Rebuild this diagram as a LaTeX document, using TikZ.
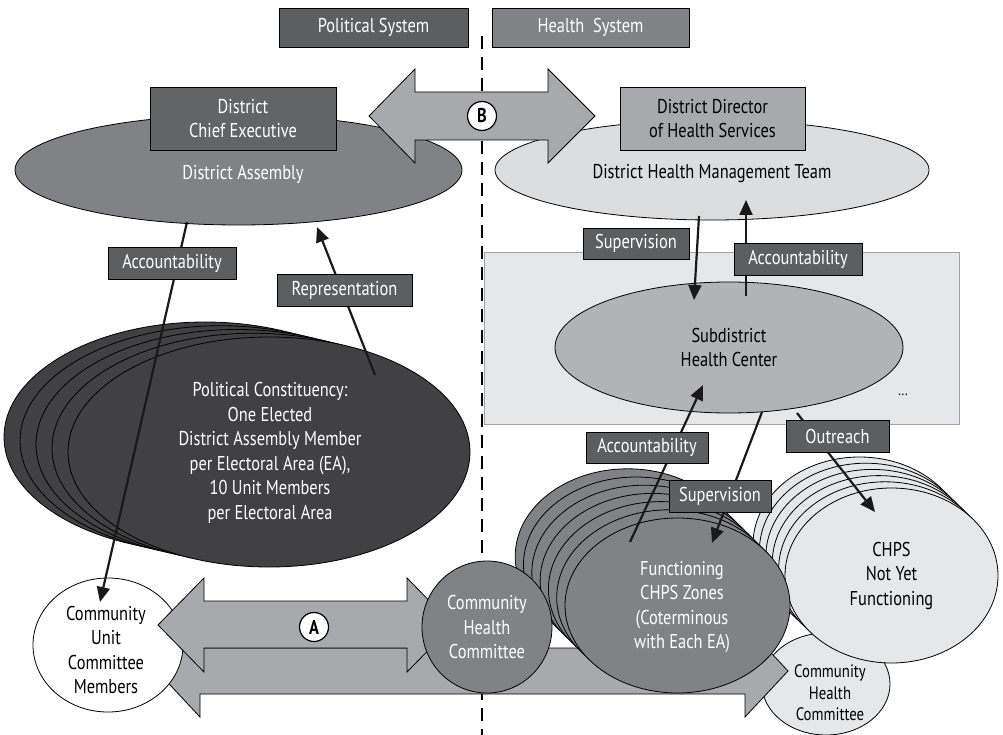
\documentclass[tikz,border=0pt]{standalone}
\usepackage{fontspec}
\setmainfont[FakeStretch=0.82]{PT Sans}
\usetikzlibrary{shapes.geometric,arrows.meta}

\definecolor{boxdark}{HTML}{5D5E60}
\definecolor{boxmid}{HTML}{636466}
\definecolor{gmid}{HTML}{808285}
\definecolor{garrow}{HTML}{A7A9AC}
\definecolor{glight}{HTML}{DCDDDF}
\definecolor{gpale}{HTML}{E6E7E8}
\definecolor{gdark}{HTML}{414042}
\definecolor{gsub}{HTML}{B1B3B6}
\definecolor{zoneedge}{HTML}{A0A2A5}

\newcommand\fsz{\fontsize{20}{24.5}\selectfont}
\newcommand\fszs{\fontsize{18}{21.5}\selectfont}

\begin{document}
\begin{tikzpicture}[x=1pt,y=-1pt,
  txt/.style={align=center,font=\fsz,inner sep=0},
  ell/.style={ellipse,draw=black,line width=0.8pt,inner sep=0,align=center,font=\fsz},
  stackline/.style={draw=black,line width=0.8pt},
  sysbox/.style={draw=black,line width=0.8pt,inner sep=0,minimum height=39,text=white,font=\fsz},
  headbox/.style={draw=black,line width=0.8pt,inner sep=0,minimum width=186,minimum height=63,align=center,font=\fsz},
  tagbox/.style={draw=black,line width=0.8pt,fill=boxdark,text=white,inner sep=0,minimum height=32,font=\fsz},
  blockarrow/.style={draw=black,line width=0.8pt,fill=garrow,line join=miter},
  letter/.style={circle,draw=black,line width=1.2pt,fill=white,inner sep=0,minimum size=29,font=\fsz\bfseries},
  link/.style={line width=2.2pt,draw=black!90},
  linkarrow/.style={link,-{Triangle[length=15pt,width=13pt]}}
]
\useasboundingbox (0,0) rectangle (1003,735);

% divider between the two systems
\draw[line width=2.6pt,dash pattern=on 13pt off 8pt] (482,36) -- (482,735);

% subdistrict zone
\node[draw=zoneedge,line width=0.8pt,fill=gpale,minimum width=475,minimum height=172,inner sep=0] (zone) at (721.5,338) {};

% district level
\node[ell,fill=gmid,minimum width=447,minimum height=110] (da) at (238.5,170) {};
\node[txt,text=white] (dat) at (243,174) {District Assembly};
\node[ell,fill=glight,minimum width=434,minimum height=100] (dhmt) at (712,170) {};
\node[txt] (dhmtt) at (712,174) {District Health Management Team};
\node[headbox,fill=boxmid,text=white] (dce) at (243,118.5) {District\\Chief Executive};
\node[headbox,fill=garrow,minimum width=185] (ddhs) at (712.5,118.5) {District Director\\of Health Services};

\node[sysbox,fill=boxdark,minimum width=189] (pol) at (373.5,27.5) {Political System};
\node[sysbox,fill=gmid,minimum width=197] (hs) at (590.5,27.5) {Health~ System};

% link B between the two systems
\draw[blockarrow] (369,116) -- (415,69) -- (415,92) -- (548,92) -- (548,69) -- (595,116)
  -- (548,163) -- (548,140) -- (415,140) -- (415,163) -- cycle;
\node[letter] (lb) at (482,116) {B};

% subdistrict
\node[ell,fill=gsub,minimum width=348,minimum height=131] (sub) at (729,347.5) {Subdistrict\\Health Center};
\node[font=\fontsize{15}{15}\selectfont,inner sep=0] (dots) at (903,395) {...};

% political constituencies
\foreach \k in {4,3,2,1}
  \draw[stackline,fill=gdark] ({269-16*\k},{452-3.75*\k}) ellipse [x radius=201,y radius=115];
\node[ell,fill=gdark,minimum width=402,minimum height=230] (pc) at (269,452) {};
\node[txt,text=white] (pct) at (270,453)
  {Political Constituency:\\One Elected\\District Assembly Member\\per Electoral Area (EA),\\10 Unit Members\\per Electoral Area};

% community level
\node[ell,fill=gpale,minimum width=128,minimum height=102] (chcb) at (826,684) {};
\node[txt,font=\fszs] (chcbt) at (830,693) {Community\\Health\\Committee};

\draw[blockarrow] (157,671) -- (200,625) -- (200,648) -- (745,648) -- (745,625) -- (788,671)
  -- (745,717) -- (745,694) -- (200,694) -- (200,717) -- cycle;

\foreach \k in {5,4,3,2,1}
  \draw[stackline,fill=gpale] ({891.5-6.4*\k},{575.5-6.2*\k}) ellipse [x radius=106.5,y radius=87.5];
\node[ell,fill=gpale,minimum width=213,minimum height=175] (ny) at (891.5,575.5) {CHPS\\Not Yet\\Functioning};

\foreach \k in {6,5,4,3,2,1}
  \draw[stackline,fill=gmid] ({677.5-8.3*\k},{605.5-8.2*\k}) ellipse [x radius=112.5,y radius=87.5];
\node[ell,fill=gmid,text=white,minimum width=225,minimum height=175] (fc) at (677.5,605.5) {};
\node[txt,text=white] (fct) at (682,607) {Functioning\\CHPS Zones\\(Coterminous\\with Each EA)};

\node[ell,fill=white,minimum width=150,minimum height=134] (cu) at (108,645) {};
\node[txt] (cut) at (106,650) {Community\\Unit\\Committee\\Members};

\draw[blockarrow] (158,625) -- (204,578) -- (204,601) -- (407,601) -- (407,578) -- (453,625)
  -- (407,672) -- (407,648) -- (204,648) -- (204,672) -- cycle;
\node[letter] (la) at (314,627) {A};

\node[ell,fill=gmid,text=white,minimum width=130,minimum height=132] (chc) at (487,627) {Community\\Health\\Committee};

% connector end points
\coordinate (daOut) at (187,222);
\coordinate (cuIn) at (100,602);
\coordinate (pcOut) at (375,375);
\coordinate (daIn) at (317,227);
\coordinate (dhmtOut) at (699,216);
\coordinate (subIn) at (694,300);
\coordinate (subOut) at (746,296);
\coordinate (dhmtIn) at (746,200);
\coordinate (fcOut) at (630,542);
\coordinate (subInB) at (703,385);
\coordinate (subOutB) at (762,412);
\coordinate (fcIn) at (712,543);
\coordinate (subOutC) at (797,413);
\coordinate (nyIn) at (875,512);

\draw[linkarrow] (daOut) -- (cuIn);
\draw[linkarrow] (pcOut) -- (daIn);
\draw[linkarrow] (dhmtOut) -- (subIn);
\draw[linkarrow] (subOut) -- (dhmtIn);
\draw[linkarrow] (fcOut) -- (subInB);
\draw[linkarrow] (subOutB) -- (fcIn);
\draw[linkarrow] (subOutC) -- (nyIn);

% connector labels
\node[tagbox,minimum width=128] (t1) at (172,263.5) {Accountability};
\node[tagbox,minimum width=135] (t2) at (344.5,290.5) {Representation};
\node[tagbox,minimum width=106,minimum height=31] (t3) at (636,243.5) {Supervision};
\node[tagbox,minimum width=128] (t4) at (798,259) {Accountability};
\node[tagbox,minimum width=122,minimum height=31] (t5) at (647,447.5) {Accountability};
\node[tagbox,minimum width=102] (t6) at (720,496) {Supervision};
\node[tagbox,minimum width=103] (t7) at (837.5,436) {Outreach};
\end{tikzpicture}
\end{document}
